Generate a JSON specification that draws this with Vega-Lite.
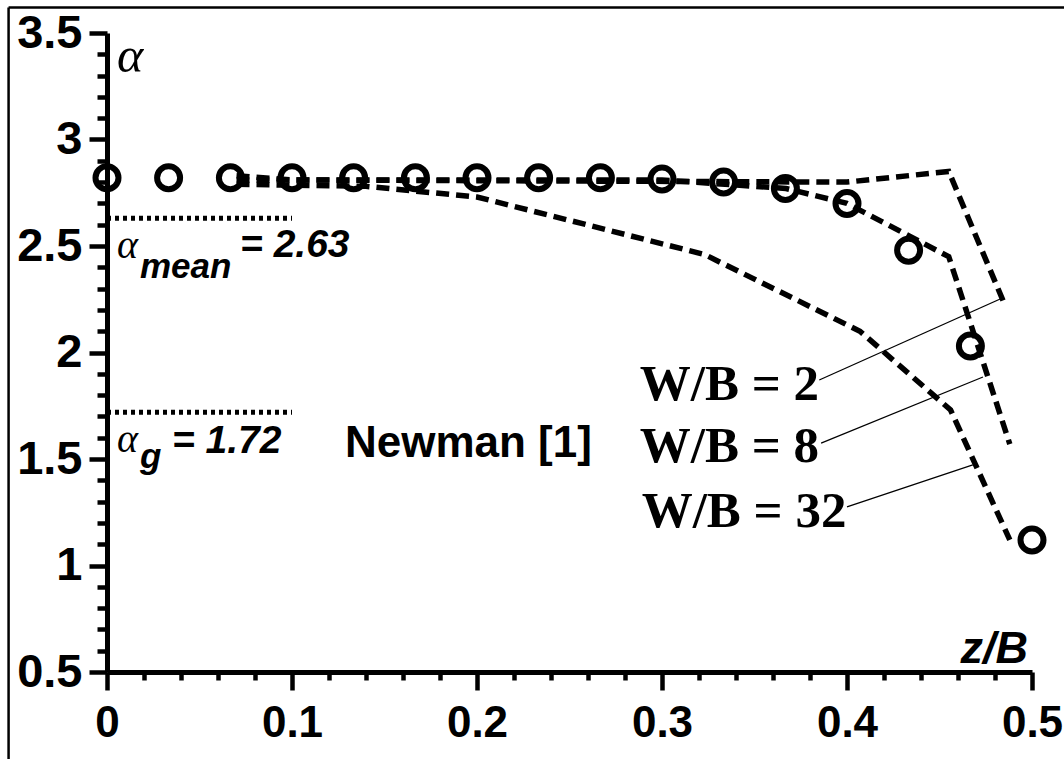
{
  "$schema": "https://vega.github.io/schema/vega-lite/v6.json",
  "width": 925,
  "height": 639,
  "autosize": "none",
  "padding": {"left": 107, "top": 33, "right": 32, "bottom": 87},
  "background": "white",
  "config": {"view": {"stroke": null}},
  "datasets": {
    "circles": [
      {"x": 0, "y": 2.82}, {"x": 0.0333, "y": 2.82}, {"x": 0.0667, "y": 2.82},
      {"x": 0.1, "y": 2.82}, {"x": 0.1333, "y": 2.82}, {"x": 0.1667, "y": 2.82},
      {"x": 0.2, "y": 2.82}, {"x": 0.2333, "y": 2.82}, {"x": 0.2667, "y": 2.82},
      {"x": 0.3, "y": 2.815}, {"x": 0.3333, "y": 2.80}, {"x": 0.3667, "y": 2.77},
      {"x": 0.4, "y": 2.70}, {"x": 0.4333, "y": 2.48}, {"x": 0.4667, "y": 2.03},
      {"x": 0.5, "y": 1.12}
    ],
    "newman": [
      {"series": "W/B = 2", "x": 0.07, "y": 2.83},
      {"series": "W/B = 2", "x": 0.1, "y": 2.81},
      {"series": "W/B = 2", "x": 0.4, "y": 2.80},
      {"series": "W/B = 2", "x": 0.455, "y": 2.85},
      {"series": "W/B = 2", "x": 0.485, "y": 2.23},
      {"series": "W/B = 8", "x": 0.07, "y": 2.81},
      {"series": "W/B = 8", "x": 0.3, "y": 2.81},
      {"series": "W/B = 8", "x": 0.367, "y": 2.77},
      {"series": "W/B = 8", "x": 0.4, "y": 2.70},
      {"series": "W/B = 8", "x": 0.455, "y": 2.45},
      {"series": "W/B = 8", "x": 0.488, "y": 1.57},
      {"series": "W/B = 32", "x": 0.07, "y": 2.79},
      {"series": "W/B = 32", "x": 0.14, "y": 2.78},
      {"series": "W/B = 32", "x": 0.2, "y": 2.73},
      {"series": "W/B = 32", "x": 0.323, "y": 2.46},
      {"series": "W/B = 32", "x": 0.407, "y": 2.10},
      {"series": "W/B = 32", "x": 0.456, "y": 1.73},
      {"series": "W/B = 32", "x": 0.488, "y": 1.12}
    ],
    "leaders": [
      {"x": 0.385, "x2": 0.484, "y": 1.871, "y2": 2.256},
      {"x": 0.386, "x2": 0.4735, "y": 1.575, "y2": 1.885},
      {"x": 0.400, "x2": 0.468, "y": 1.275, "y2": 1.472}
    ],
    "means": [
      {"x": 0, "x2": 0.1, "y": 2.63},
      {"x": 0, "x2": 0.1, "y": 1.72}
    ],
    "frame": [
      {"x": -0.0532, "x2": -0.0532, "y": 0.0, "y2": 3.62},
      {"x": -0.0532, "x2": 0.54, "y": 3.62, "y2": 3.62}
    ],
    "alphas": [
      {"x": 0.0054, "y": 3.317, "text": "α"}
    ],
    "alphasSmall": [
      {"x": 0.0054, "y": 2.444, "text": "α"},
      {"x": 0.0054, "y": 1.533, "text": "α"}
    ],
    "subs": [
      {"x": 0.0178, "y": 2.35, "text": "mean"},
      {"x": 0.0178, "y": 1.458, "text": "g"}
    ],
    "eqs": [
      {"x": 0.0719, "y": 2.448, "text": "= 2.63"},
      {"x": 0.0351, "y": 1.528, "text": "= 1.72"}
    ],
    "newmanLabel": [
      {"x": 0.1286, "y": 1.509, "text": "Newman [1]"}
    ],
    "wb": [
      {"x": 0.288, "y": 1.777, "text": "W/B = 2"},
      {"x": 0.288, "y": 1.486, "text": "W/B = 8"},
      {"x": 0.289, "y": 1.181, "text": "W/B = 32"}
    ],
    "xtitle": [
      {"x": 0.4978, "y": 0.542, "text": "z/B"}
    ]
  },
  "encoding": {
    "x": {
      "field": "x", "type": "quantitative",
      "scale": {"domain": [0, 0.5], "nice": false, "zero": false},
      "axis": {
        "title": null,
        "grid": false,
        "values": [0, 0.02, 0.04, 0.06, 0.08, 0.1, 0.12, 0.14, 0.16, 0.18, 0.2, 0.22, 0.24, 0.26, 0.28, 0.3, 0.32, 0.34, 0.36, 0.38, 0.4, 0.42, 0.44, 0.46, 0.48, 0.5],
        "domainColor": "black", "domainWidth": 5,
        "tickColor": "black", "tickWidth": 4.5, "tickSize": 18,
        "tickDash": {"condition": {"test": "abs(datum.value*10 - round(datum.value*10)) < 1e-6", "value": [40, 0]}, "value": [8, 40]},
        "labelExpr": "abs(datum.value*10 - round(datum.value*10)) < 1e-6 ? format(datum.value, '~g') : ''",
        "labelFont": "Liberation Sans", "labelFontWeight": "bold", "labelFontSize": 44,
        "labelColor": "black", "labelPadding": 11, "labelFlush": false, "labelOverlap": false
      }
    },
    "y": {
      "field": "y", "type": "quantitative",
      "scale": {"domain": [0.5, 3.5], "nice": false, "zero": false},
      "axis": {
        "title": null,
        "grid": false,
        "values": [0.5, 0.6, 0.7, 0.8, 0.9, 1, 1.1, 1.2, 1.3, 1.4, 1.5, 1.6, 1.7, 1.8, 1.9, 2, 2.1, 2.2, 2.3, 2.4, 2.5, 2.6, 2.7, 2.8, 2.9, 3, 3.1, 3.2, 3.3, 3.4, 3.5],
        "domainColor": "black", "domainWidth": 5,
        "tickColor": "black", "tickWidth": 4.5, "tickSize": 18,
        "tickDash": {"condition": {"test": "abs(datum.value*2 - round(datum.value*2)) < 1e-6", "value": [40, 0]}, "value": [10, 40]},
        "labelExpr": "abs(datum.value*2 - round(datum.value*2)) < 1e-6 ? format(datum.value, '~g') : ''",
        "labelFont": "Liberation Sans", "labelFontWeight": "bold", "labelFontSize": 47,
        "labelColor": "black", "labelPadding": 7, "labelFlush": false, "labelOverlap": false
      }
    }
  },
  "layer": [
    {
      "data": {"name": "frame"},
      "mark": {"type": "rule", "color": "black", "strokeWidth": 2.5},
      "encoding": {"x2": {"field": "x2"}, "y2": {"field": "y2"}}
    },
    {
      "data": {"name": "means"},
      "mark": {"type": "rule", "color": "black", "strokeWidth": 5, "strokeDash": [4, 4]},
      "encoding": {"x2": {"field": "x2"}}
    },
    {
      "data": {"name": "newman"},
      "mark": {"type": "line", "color": "black", "strokeWidth": 5.5, "strokeDash": [13, 7]},
      "encoding": {"detail": {"field": "series"}, "order": {"field": "x"}}
    },
    {
      "data": {"name": "leaders"},
      "mark": {"type": "rule", "color": "black", "strokeWidth": 1.3},
      "encoding": {"x2": {"field": "x2"}, "y2": {"field": "y2"}}
    },
    {
      "data": {"name": "circles"},
      "mark": {"type": "point", "shape": "circle", "filled": false, "size": 529, "strokeWidth": 6, "color": "black", "opacity": 1}
    },
    {
      "data": {"name": "alphas"},
      "mark": {"type": "text", "font": "Liberation Serif", "fontStyle": "italic", "fontSize": 50, "align": "left", "baseline": "alphabetic", "color": "black"},
      "encoding": {"text": {"field": "text"}}
    },
    {
      "data": {"name": "alphasSmall"},
      "mark": {"type": "text", "font": "Liberation Serif", "fontStyle": "italic", "fontSize": 40, "align": "left", "baseline": "alphabetic", "color": "black"},
      "encoding": {"text": {"field": "text"}}
    },
    {
      "data": {"name": "subs"},
      "mark": {"type": "text", "font": "Liberation Sans", "fontStyle": "italic", "fontWeight": "bold", "fontSize": 35, "align": "left", "baseline": "alphabetic", "color": "black"},
      "encoding": {"text": {"field": "text"}}
    },
    {
      "data": {"name": "eqs"},
      "mark": {"type": "text", "font": "Liberation Sans", "fontStyle": "italic", "fontWeight": "bold", "fontSize": 39, "align": "left", "baseline": "alphabetic", "color": "black"},
      "encoding": {"text": {"field": "text"}}
    },
    {
      "data": {"name": "newmanLabel"},
      "mark": {"type": "text", "font": "Liberation Sans", "fontWeight": "bold", "fontSize": 44, "align": "left", "baseline": "alphabetic", "color": "black"},
      "encoding": {"text": {"field": "text"}}
    },
    {
      "data": {"name": "wb"},
      "mark": {"type": "text", "font": "Liberation Serif", "fontWeight": "bold", "fontSize": 51, "align": "left", "baseline": "alphabetic", "color": "black"},
      "encoding": {"text": {"field": "text"}}
    },
    {
      "data": {"name": "xtitle"},
      "mark": {"type": "text", "font": "Liberation Sans", "fontStyle": "italic", "fontWeight": "bold", "fontSize": 45, "align": "right", "baseline": "alphabetic", "color": "black"},
      "encoding": {"text": {"field": "text"}}
    }
  ]
}
